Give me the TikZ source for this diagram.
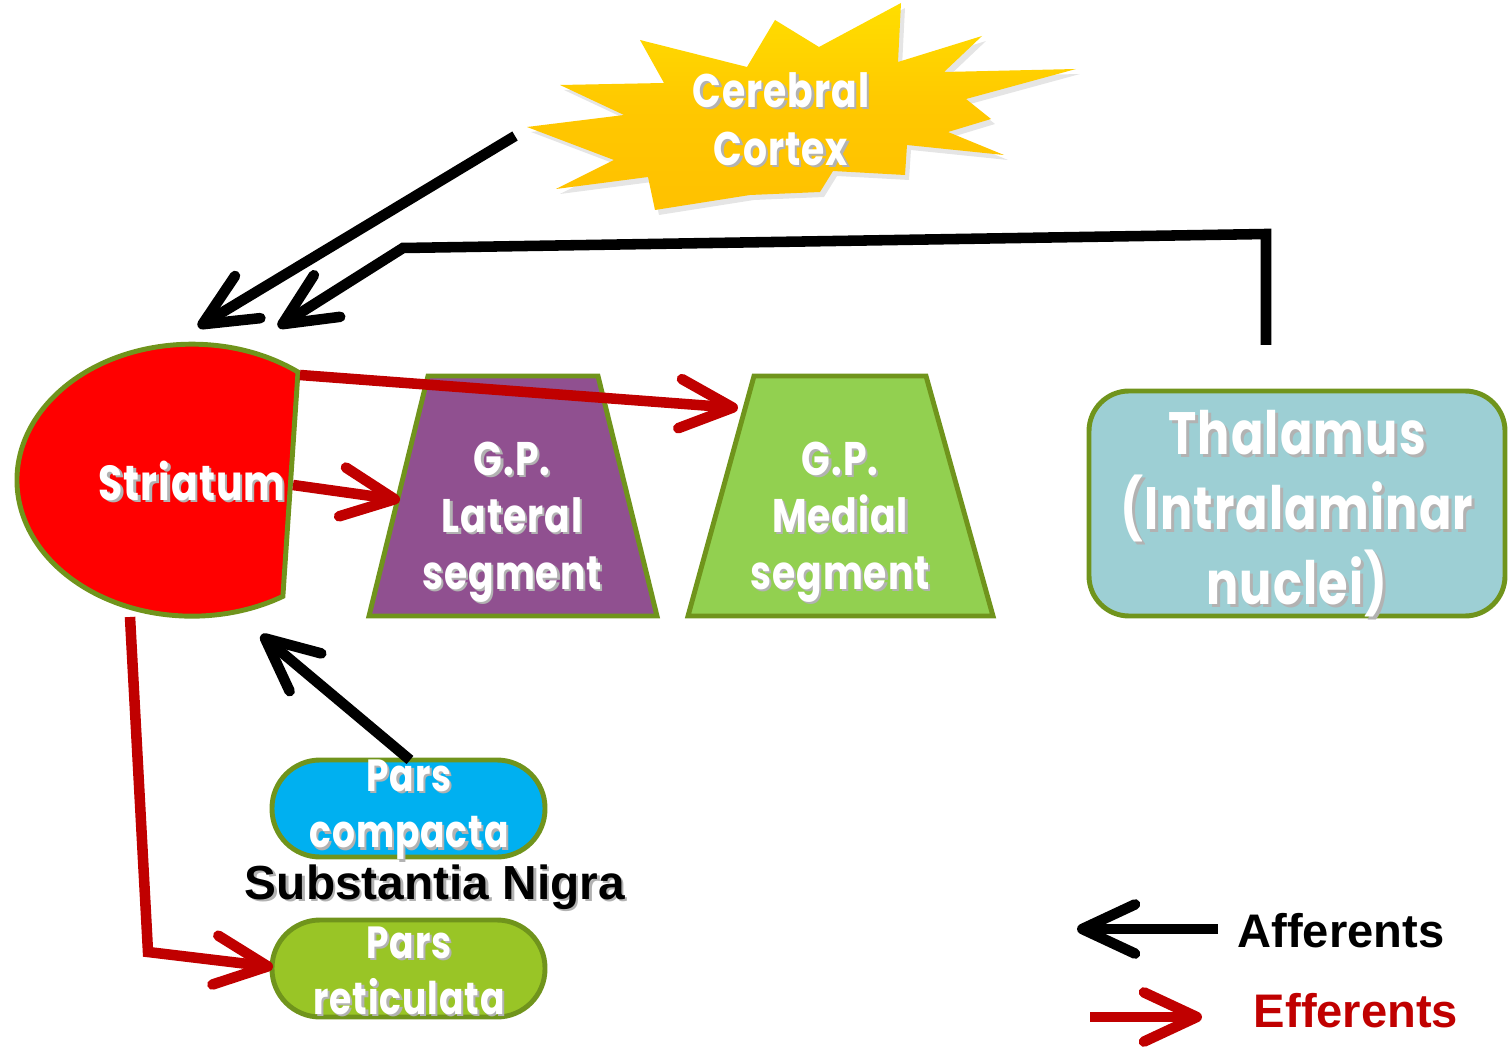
\documentclass[tikz,border=0pt]{standalone}
\usepackage{fontspec}
\setmainfont{Liberation Sans}
\newfontfamily\geo{Poppins}[FakeStretch=0.8,LetterSpace=2]
\usetikzlibrary{arrows.meta}
\definecolor{bordgreen}{HTML}{70941C}
\definecolor{strired}{HTML}{FF0000}
\definecolor{effred}{HTML}{C00000}
\definecolor{latpurple}{HTML}{905090}
\definecolor{medgreen}{HTML}{92D050}
\definecolor{thalteal}{HTML}{9DCFD4}
\definecolor{compblue}{HTML}{00B0F0}
\definecolor{retgreen}{HTML}{99C526}
\definecolor{staryel}{HTML}{FFC800}
\newcommand\shd[1]{\leavevmode\rlap{\kern0.05em\raisebox{-0.05em}{\textcolor{black!30}{#1}}}#1}
\tikzset{
  bord/.style={draw=bordgreen, line width=1.4pt},
  wt/.style={text=white, align=center, inner sep=0pt},
  geofont/.style n args={2}{font=\geo\bfseries\fontsize{#1}{#2}\selectfont},
  aff/.style={draw=black, line width=3pt, -{Straight Barb[length=15pt,width=14pt,round]}},
  eff/.style={draw=effred, line width=3pt, -{Straight Barb[length=15pt,width=14pt,round]}},
}
\begin{document}
\begin{tikzpicture}[x=0.01cm,y=-0.01cm]
\useasboundingbox (0,0) rectangle (1509,1052);

% Cerebral cortex star
\begin{scope}[shift={(4,5)}]
\fill[black!10] (640,40) -- (747,67) -- (775,20) -- (819,47) -- (901,3) -- (898,62) -- (982,36) -- (944,72)
  -- (1076,69) -- (966,99) -- (991,119) -- (948,132) -- (1004,155) -- (907,145) -- (905,175)
  -- (833,171) -- (820,192) -- (750,195) -- (655,210) -- (648,177) -- (556,189) -- (614,160)
  -- (527,127) -- (624,115) -- (560,85) -- (664,83) -- cycle;
\end{scope}
\shade[top color=staryel!60!yellow, bottom color=staryel!90!orange, middle color=staryel]
  (640,40) -- (747,67) -- (775,20) -- (819,47) -- (901,3) -- (898,62) -- (982,36) -- (944,72)
  -- (1076,69) -- (966,99) -- (991,119) -- (948,132) -- (1004,155) -- (907,145) -- (905,175)
  -- (833,171) -- (820,192) -- (750,195) -- (655,210) -- (648,177) -- (556,189) -- (614,160)
  -- (527,127) -- (624,115) -- (560,85) -- (664,83) -- cycle;
\node[wt, geofont={13.4}{16.5}] (cortex) at (781,120) {\shd{Cerebral}\\\shd{Cortex}};

% Striatum
\draw[bord, fill=strired] (298,372) arc[start angle=-52.7, end angle=-301.3, x radius=175, y radius=136] -- cycle;
\node[wt, geofont={14}{17}] (striatum) at (192,482) {\shd{Striatum}};

% G.P. lateral and medial
\draw[bord, fill=latpurple] (428,376) -- (598,376) -- (657,616) -- (369,616) -- cycle;
\node[wt, geofont={13.4}{16.2}] (gplat) at (512,523) {\shd{G.P.}\\\shd{Lateral}\\\shd{segment}};
\draw[bord, fill=medgreen] (754,376) -- (926,376) -- (993,616) -- (688,616) -- cycle;
\node[wt, geofont={13.4}{16.2}] (gpmed) at (840,523) {\shd{G.P.}\\\shd{Medial}\\\shd{segment}};

% Thalamus
\draw[bord, fill=thalteal, rounded corners=0.4cm] (1089,391) rectangle (1505,616);
\node[wt, geofont={17}{21.3}] (thal) at (1297,515) {\shd{Thalamus}\\\shd{(Intralaminar}\\\shd{nuclei)}};

% Substantia nigra
\draw[bord, fill=compblue, rounded corners=0.48cm] (272,760) rectangle (545,857);
\draw[bord, fill=retgreen, rounded corners=0.48cm] (272,920) rectangle (545,1017);
\node[wt, geofont={12.8}{16}] (pc) at (409,811) {\shd{Pars}\\\shd{compacta}};
\node[wt, geofont={12.8}{16}] (pr) at (409,972) {\shd{Pars}\\\shd{reticulata}};
\node[inner sep=0pt, font=\bfseries\fontsize{13.6}{16}\selectfont] (sn) at (435,888) {\shd{Substantia Nigra}};

% connector end points
\coordinate (cortex-out) at (515,136);
\coordinate (stri-in1) at (198,327);
\coordinate (thal-out) at (1266,345);
\coordinate (thal-c1) at (1266,234);
\coordinate (thal-c2) at (403,248);
\coordinate (stri-in2) at (278,327);
\coordinate (pc-out) at (410,760);
\coordinate (stri-in3) at (261,635);
\coordinate (stri-out1) at (300,375);
\coordinate (med-in) at (738,408);
\coordinate (stri-out2) at (293,485);
\coordinate (lat-in) at (400,500);
\coordinate (stri-out3) at (130,617);
\coordinate (sn-c) at (148,952);
\coordinate (pr-in) at (273,967);

% afferents
\draw[aff] (cortex-out) -- (stri-in1);
\draw[aff] (thal-out) -- (thal-c1) -- (thal-c2) -- (stri-in2);
\draw[aff] (pc-out) -- (stri-in3);

% efferents
\draw[eff] (stri-out1) -- (med-in);
\draw[eff] (stri-out2) -- (lat-in);
\draw[eff] (stri-out3) -- (sn-c) -- (pr-in);

% legend
\coordinate (la1) at (1218,929);
\coordinate (la2) at (1077,929);
\coordinate (le1) at (1090,1017);
\coordinate (le2) at (1202,1017);
\draw[aff] (la1) -- (la2);
\draw[eff] (le1) -- (le2);
\node[inner sep=0pt, font=\bfseries\fontsize{13.4}{16}\selectfont] (afflab) at (1341,931) {Afferents};
\node[inner sep=0pt, text=effred, font=\bfseries\fontsize{13.4}{16}\selectfont] (efflab) at (1356,1011) {Efferents};
\end{tikzpicture}
\end{document}
